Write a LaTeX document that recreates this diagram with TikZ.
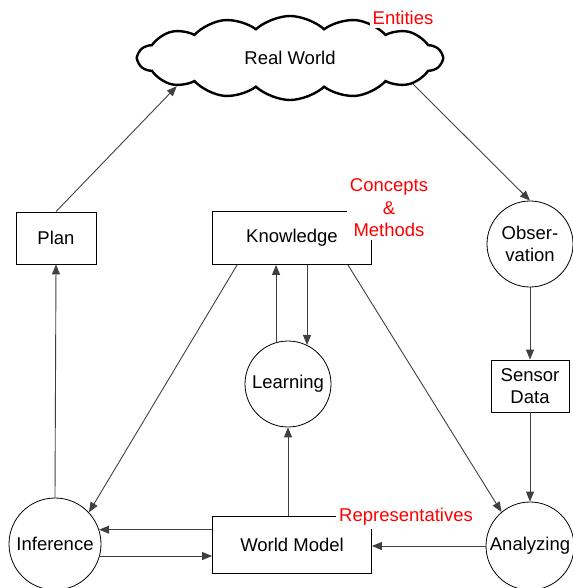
\documentclass[tikz,border=0pt]{standalone}
\usepackage{fontspec}
\setmainfont{Liberation Sans}
\usetikzlibrary{positioning, arrows.meta, shapes.symbols}

\begin{document}
\begin{tikzpicture}[
  x=1pt, y=-1pt,
  every node/.style={font=\fontsize{18.5}{22.5}\selectfont},
  box/.style={draw, line width=0.8pt, inner sep=0pt, align=center,
              minimum width=159pt, minimum height=54pt},
  circ/.style={draw, circle, line width=0.8pt, inner sep=0pt, align=center,
               minimum size=86pt},
  lbl/.style={text=red, fill=white, inner sep=3pt, align=center},
  arr/.style={-{Triangle[length=10pt, width=8pt]}, line width=0.9pt, black!75},
  >=Stealth
]
  \useasboundingbox (0,0) rectangle (572,588);

  % Top: the real world
  \node[draw, cloud, cloud puffs=14, cloud puff arc=85, cloud ignores aspect,
        line width=2.4pt, minimum width=304pt, minimum height=84pt,
        inner sep=0pt] (world) at (290,58) {Real World};

  % Middle row
  \node[box, minimum width=80pt, minimum height=52pt] (plan) at (56,238) {Plan};
  \node[box, minimum height=53pt] (know) at (292,238) {Knowledge};
  \node[circ] (obs) at (530,244) {Obser-\\vation};

  % Learning loop and sensor data
  \node[circ] (learn) at (288,384) {Learning};
  \node[box, minimum width=78pt, minimum height=52pt] (sensor) at (530,386)
    {Sensor\\Data};

  % Bottom row
  \node[circ, minimum size=92pt] (infer) at (55,544) {Inference};
  \node[box, minimum height=57pt] (model) at (292,545) {World Model};
  \node[circ, minimum size=88pt] (analyze) at (530,546) {Analyzing};

  % Arrows
  \draw[arr] (plan.north) -- (world.-166);
  \draw[arr] (world.-12) -- (obs.north);
  \draw[arr] (obs.south) -- (sensor.north);
  \draw[arr] (sensor.south) -- (analyze.north);
  \draw[arr] (analyze.west) -- (analyze.west -| model.east);
  \draw[arr] (infer.18 -| model.west) -- (infer.18);
  \draw[arr] (infer.-15) -- (infer.-15 -| model.west);
  \draw[arr] (learn.south |- model.north) -- (learn.south);
  \draw[arr] (learn.106) -- (learn.106 |- know.south);
  \draw[arr] (learn.64 |- know.south) -- (learn.64);
  \draw[arr] ([xshift=25pt]know.south west) -- (infer.43);
  \draw[arr] ([xshift=-24pt]know.south east) -- (analyze.130);
  \draw[arr] (infer.north) -- (plan.south);

  % Labels
  \node[lbl] (entities) at (403,18) {Entities};
  \node[lbl] (concepts) at (389,208) {Concepts\\\&\\Methods};
  \node[lbl] (repr) at (406,517) {Representatives};
\end{tikzpicture}
\end{document}
